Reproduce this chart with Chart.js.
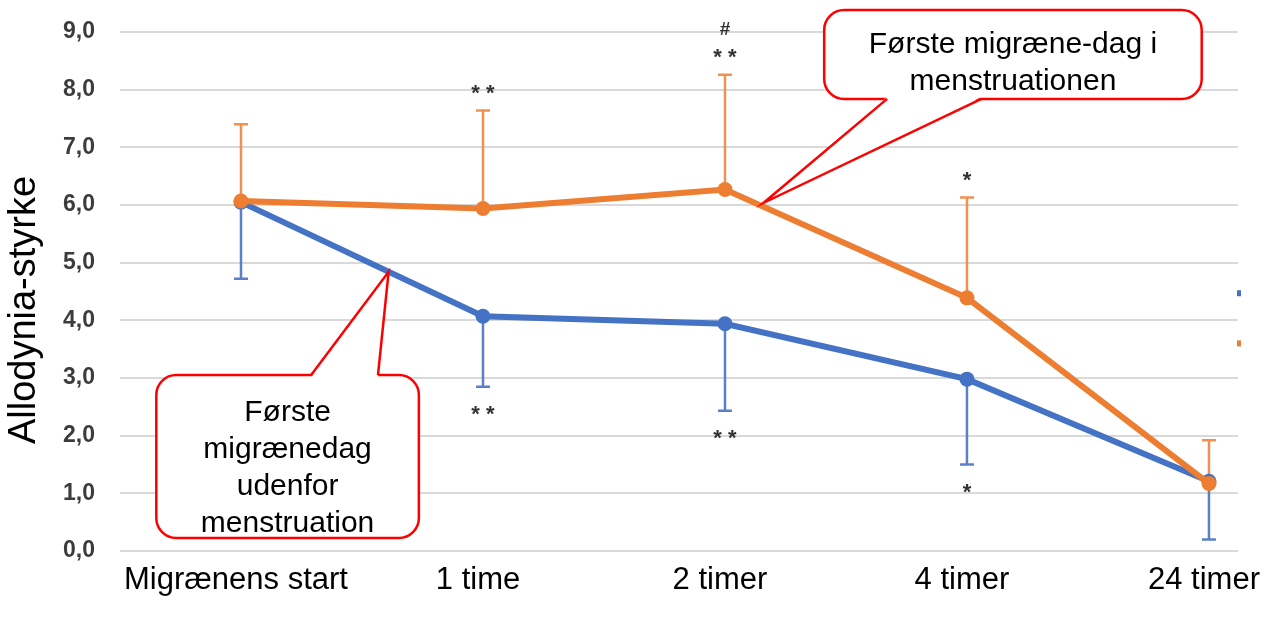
<!DOCTYPE html>
<html>
<head>
<meta charset="utf-8">
<script src="https://cdn.jsdelivr.net/npm/chart.js@4/dist/chart.umd.min.js"></script>
<style>
  html, body { margin: 0; padding: 0; background: #ffffff; overflow: hidden; }
  #wrap { width: 1264px; height: 621px; position: relative; }
</style>
</head>
<body>
<div id="wrap"><canvas id="c" width="1264" height="621"></canvas></div>
<script>
// ---- data ----
const categories = ['Migrænens start', '1 time', '2 timer', '4 timer', '24 timer'];
const outsideLabel = 'Første migrænedag udenfor menstruation';
const menstrLabel = 'Første migræne-dag i menstruationen';
const outsideMean = [6.05, 4.07, 3.94, 2.98, 1.21];
const outsideErrLow = [4.72, 2.85, 2.43, 1.50, 0.20];
const menstrMean = [6.07, 5.94, 6.27, 4.39, 1.17];
const menstrErrHigh = [7.40, 7.64, 8.26, 6.13, 1.92];
const sigAbove = ['', '**', '**', '*', ''];
const hashAbove = ['', '', '#', '', ''];
const sigBelow = ['', '**', '**', '*', ''];
const yTicks = [0, 1, 2, 3, 4, 5, 6, 7, 8, 9];
const yTitle = 'Allodynia-styrke';
const calloutTop = ['Første migræne-dag i', 'menstruationen'];
const calloutBottom = ['Første', 'migrænedag', 'udenfor', 'menstruation'];

const BLUE = '#4472C4';
const ORANGE = '#ED7D31';
const FONT = '"Liberation Sans", Arial, sans-serif';

function toPts(arr) { return arr.map((v, i) => ({ x: i, y: v })); }

const decor = {
  id: 'decor',
  beforeDatasetsDraw(chart) {
    const ctx = chart.ctx, xs = chart.scales.x, ys = chart.scales.y;
    ctx.save();
    ctx.lineWidth = 2.5;
    const cap = 7;
    ctx.strokeStyle = '#5b80c8';
    outsideMean.forEach((m, i) => {
      const x = xs.getPixelForValue(i);
      const y0 = ys.getPixelForValue(m), y1 = ys.getPixelForValue(outsideErrLow[i]);
      ctx.beginPath(); ctx.moveTo(x, y0); ctx.lineTo(x, y1);
      ctx.moveTo(x - cap, y1); ctx.lineTo(x + cap, y1); ctx.stroke();
    });
    ctx.strokeStyle = '#ef9150';
    menstrMean.forEach((m, i) => {
      const x = xs.getPixelForValue(i);
      const y0 = ys.getPixelForValue(m), y1 = ys.getPixelForValue(menstrErrHigh[i]);
      ctx.beginPath(); ctx.moveTo(x, y0); ctx.lineTo(x, y1);
      ctx.moveTo(x - cap, y1); ctx.lineTo(x + cap, y1); ctx.stroke();
    });
    ctx.restore();
  },
  afterDraw(chart) {
    const ctx = chart.ctx, xs = chart.scales.x, ys = chart.scales.y;
    ctx.save();
    ctx.fillStyle = '#333333';
    ctx.textAlign = 'center';
    ctx.textBaseline = 'alphabetic';
    const starFont = 'bold 22px ' + FONT;
    const starOff = 0.57 * 22;
    categories.forEach((c, i) => {
      const x = xs.getPixelForValue(i);
      const top = ys.getPixelForValue(menstrErrHigh[i]);
      const bot = ys.getPixelForValue(outsideErrLow[i]);
      ctx.font = starFont;
      if (sigAbove[i]) ctx.fillText(sigAbove[i].split('').join(' '), x, top - 23 + starOff);
      if (sigBelow[i]) ctx.fillText(sigBelow[i].split('').join(' '), x, bot + 22 + starOff);
      if (hashAbove[i]) { ctx.font = 'bold 19px ' + FONT; ctx.fillText(hashAbove[i], x, top - 47 + 7); }
    });

    ctx.save();
    ctx.translate(25, 310);
    ctx.rotate(-Math.PI / 2);
    ctx.font = '38px ' + FONT;
    ctx.fillStyle = '#000';
    ctx.textBaseline = 'middle';
    ctx.textAlign = 'center';
    ctx.fillText(yTitle, 0, 0);
    ctx.restore();

    function callout(l, t, r, b, baseA, baseB, tip, tailOnTop, lines, lineH, textTop) {
      const L = xs.getPixelForValue(l), R = xs.getPixelForValue(r);
      const T = ys.getPixelForValue(t), B = ys.getPixelForValue(b);
      const bA = xs.getPixelForValue(baseA), bB = xs.getPixelForValue(baseB);
      ctx.lineWidth = 2.5;
      ctx.strokeStyle = '#ff0000';
      ctx.fillStyle = '#ffffff';
      ctx.beginPath();
      ctx.roundRect(L, T, R - L, B - T, 20);
      ctx.fill(); ctx.stroke();
      const edge = tailOnTop ? T : B;
      const inset = tailOnTop ? 2 : -2;
      ctx.beginPath();
      ctx.moveTo(bA, edge + inset); ctx.lineTo(tip.x, tip.y); ctx.lineTo(bB, edge + inset); ctx.closePath();
      ctx.fill();
      ctx.beginPath();
      ctx.moveTo(bA, edge); ctx.lineTo(tip.x, tip.y); ctx.lineTo(bB, edge);
      ctx.stroke();
      ctx.fillStyle = '#000';
      ctx.font = '30px ' + FONT;
      ctx.textAlign = 'center';
      ctx.textBaseline = 'middle';
      const cx = (L + R) / 2;
      lines.forEach((s, k) => ctx.fillText(s, cx, T + textTop + k * lineH));
    }
    function onLine(arr, i, f) {
      const x0 = xs.getPixelForValue(i), x1 = xs.getPixelForValue(i + 1);
      const y0 = ys.getPixelForValue(arr[i]), y1 = ys.getPixelForValue(arr[i + 1]);
      return { x: x0 + (x1 - x0) * f, y: y0 + (y1 - y0) * f };
    }
    const tip1 = onLine(menstrMean, 2, 0.16); tip1.y -= 4;
    callout(2.41, 9.38, 3.97, 7.84, 2.67, 3.06, tip1, false, calloutTop, 37, 35);
    const tip2 = onLine(outsideMean, 0, 0.61);
    callout(-0.35, 3.05, 0.735, 0.225, 0.29, 0.566, tip2, true, calloutBottom, 37, 38);

    ctx.fillStyle = BLUE;
    ctx.fillRect(chart.chartArea.right - 1, ys.getPixelForValue(4.47) - 3, 4, 6);
    ctx.fillStyle = ORANGE;
    ctx.fillRect(chart.chartArea.right - 1, ys.getPixelForValue(3.6) - 3, 4, 6);
    ctx.restore();
  }
};

new Chart(document.getElementById('c'), {
  type: 'line',
  data: {
    datasets: [
      {
        label: outsideLabel,
        data: toPts(outsideMean),
        borderColor: BLUE, backgroundColor: BLUE,
        pointBackgroundColor: BLUE, pointBorderColor: BLUE,
        borderWidth: 6, pointRadius: 7.5, pointBorderWidth: 0,
        tension: 0, order: 2
      },
      {
        label: menstrLabel,
        data: toPts(menstrMean),
        borderColor: ORANGE, backgroundColor: ORANGE,
        pointBackgroundColor: ORANGE, pointBorderColor: ORANGE,
        borderWidth: 6, pointRadius: 7.5, pointBorderWidth: 0,
        tension: 0, order: 1
      }
    ]
  },
  options: {
    responsive: false,
    animation: false,
    devicePixelRatio: 1,
    layout: { padding: { top: 32, right: 26, left: 0, bottom: 0 } },
    plugins: { legend: { display: false }, tooltip: { enabled: false } },
    scales: {
      x: {
        type: 'linear',
        min: -0.5, max: 4.12,
        afterBuildTicks(scale) { scale.ticks = categories.map((c, i) => ({ value: i })); },
        afterFit(scale) { scale.height = 70; scale.paddingLeft = 0; scale.paddingRight = 0; },
        grid: { display: false, drawTicks: false },
        border: { display: false },
        ticks: {
          padding: 11,
          labelOffset: -5,
          color: '#000',
          font: { family: FONT, size: 31 },
          maxRotation: 0, autoSkip: false,
          callback: (v) => categories[v] ?? ''
        }
      },
      y: {
        min: 0, max: 9,
        afterBuildTicks(scale) { scale.ticks = yTicks.map(v => ({ value: v })); },
        afterFit(scale) { scale.width = 120; scale.paddingTop = 0; scale.paddingBottom = 0; },
        grid: { color: '#d9d9d9', lineWidth: 2, drawTicks: false },
        border: { display: false },
        ticks: {
          padding: 25,
          color: '#3c3c3c',
          font: { family: FONT, size: 23, weight: 'bold' },
          callback: (v) => v.toFixed(1).replace('.', ',')
        }
      }
    }
  },
  plugins: [decor]
});
</script>
</body>
</html>
